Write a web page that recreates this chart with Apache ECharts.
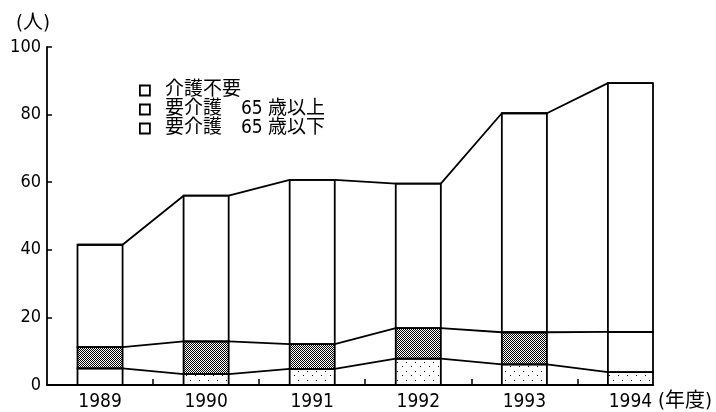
<!DOCTYPE html>
<html>
<head>
<meta charset="utf-8">
<script src="https://cdn.jsdelivr.net/npm/echarts@6/dist/echarts.min.js"></script>
<style>
  html, body { margin: 0; padding: 0; background: #fff; }
  #main { width: 716px; height: 412px; }
</style>
</head>
<body>
<div id="main"></div>
<script>
// 年度
const years = ['1989', '1990', '1991', '1992', '1993', '1994']
// 要介護 65歳以下 (人)
const under65 = [4.9, 3.2, 4.8, 7.8, 6.1, 3.8]
// 要介護 65歳以上 (人)
const over65 = [6.3, 9.7, 7.3, 9.0, 9.5, 11.9]
// 介護不要 (人)
const noCare = [30.3, 43.1, 48.6, 42.8, 64.8, 73.6]

const names = ['介護不要', '要介護　65 歳以上', '要介護　65 歳以下']

const HW = 0.2125 // half bar width, in axis units
const LATIN = '"DejaVu Sans Condensed", "DejaVu Sans"'
const CJK = '"DejaVu Sans Condensed", "Noto Sans CJK JP"'

// stipple patterns
function makePattern(size, dots) {
  const c = document.createElement('canvas')
  c.width = size
  c.height = size
  const ctx = c.getContext('2d')
  ctx.fillStyle = '#fff'
  ctx.fillRect(0, 0, size, size)
  ctx.fillStyle = '#000'
  dots.forEach(([x, y]) => ctx.fillRect(x, y, 1, 1))
  return { image: c, repeat: 'repeat' }
}
const dark = makePattern(2, [[0, 0], [1, 1]])
const light = makePattern(9, [[1, 2], [6, 6]])

// cumulative levels
const lvl1 = under65.map((v) => v)
const lvl2 = under65.map((v, i) => v + over65[i])
const lvl3 = lvl2.map((v, i) => v + noCare[i])

function segSeries(name, vals, bases, fillFn) {
  return {
    name,
    type: 'custom',
    z: 2,
    itemStyle: { color: '#fff', borderColor: '#000' },
    data: vals.map((v, i) => [i, bases[i], bases[i] + v]),
    encode: { x: 0, y: [1, 2] },
    renderItem: (params, api) => {
      const p1 = api.coord([api.value(0) - HW, api.value(2)])
      const p2 = api.coord([api.value(0) + HW, api.value(1)])
      return {
        type: 'rect',
        shape: { x: p1[0], y: p1[1], width: p2[0] - p1[0], height: p2[1] - p1[1] },
        style: { fill: fillFn(params.dataIndex), stroke: '#000', lineWidth: 1.8 }
      }
    }
  }
}

function edgeLine(cum) {
  return {
    type: 'line',
    data: cum.flatMap((c, i) => [[i - HW, c], [i + HW, c]]),
    symbol: 'none',
    silent: true,
    z: 4,
    lineStyle: { color: '#000', width: 1.8 }
  }
}

const chart = echarts.init(document.getElementById('main'))

const option = {
  animation: false,
  backgroundColor: '#fff',
  grid: { left: 47, right: 63, top: 47, bottom: 25 },
  legend: {
    orient: 'vertical',
    left: 139,
    top: 81,
    padding: 0,
    itemWidth: 10,
    itemHeight: 10,
    itemGap: 0,
    icon: 'rect',
    data: names,
    selectedMode: false,
    itemStyle: { color: '#fff', borderColor: '#000', borderWidth: 1.8 },
    textStyle: {
      fontFamily: CJK,
      fontSize: 19,
      lineHeight: 19,
      color: '#000',
      padding: [0, 0, 0, 10]
    }
  },
  xAxis: {
    type: 'value',
    min: -0.5,
    max: 5 + HW,
    name: '(年度)',
    nameLocation: 'end',
    nameGap: 1,
    nameTextStyle: {
      fontFamily: CJK,
      fontSize: 20,
      color: '#000',
      verticalAlign: 'top',
      padding: [7, 0, 0, 0]
    },
    splitLine: { show: false },
    axisLine: { onZero: false, lineStyle: { color: '#000', width: 1.8 } },
    axisTick: {
      inside: true,
      length: 6,
      lineStyle: { color: '#000', width: 1.5 },
      customValues: [0.5, 1.5, 2.5, 3.5, 4.5]
    },
    axisLabel: {
      customValues: [0, 1, 2, 3, 4, 5],
      formatter: (v) => years[Math.round(v)],
      fontFamily: LATIN,
      fontSize: 19,
      color: '#000',
      margin: 8
    }
  },
  yAxis: {
    type: 'value',
    min: 0,
    max: 100,
    interval: 20,
    name: '(人)',
    nameLocation: 'end',
    nameGap: 13,
    nameTextStyle: { fontFamily: CJK, fontSize: 20, color: '#000', align: 'right', padding: [0, -3, 0, 0] },
    splitLine: { show: false },
    axisLine: { onZero: false, lineStyle: { color: '#000', width: 1.8 } },
    axisTick: { inside: true, length: 5, lineStyle: { color: '#000', width: 1.5 } },
    axisLabel: { fontFamily: LATIN, fontSize: 18, color: '#000', margin: 6 }
  },
  series: [
    segSeries(names[2], under65, under65.map(() => 0), (i) => (i === 0 ? '#fff' : light)),
    segSeries(names[1], over65, lvl1, (i) => (i === 5 ? '#fff' : dark)),
    segSeries(names[0], noCare, lvl2, () => '#fff'),
    edgeLine(lvl1),
    edgeLine(lvl2),
    edgeLine(lvl3)
  ]
}

chart.setOption(option)
</script>
</body>
</html>
